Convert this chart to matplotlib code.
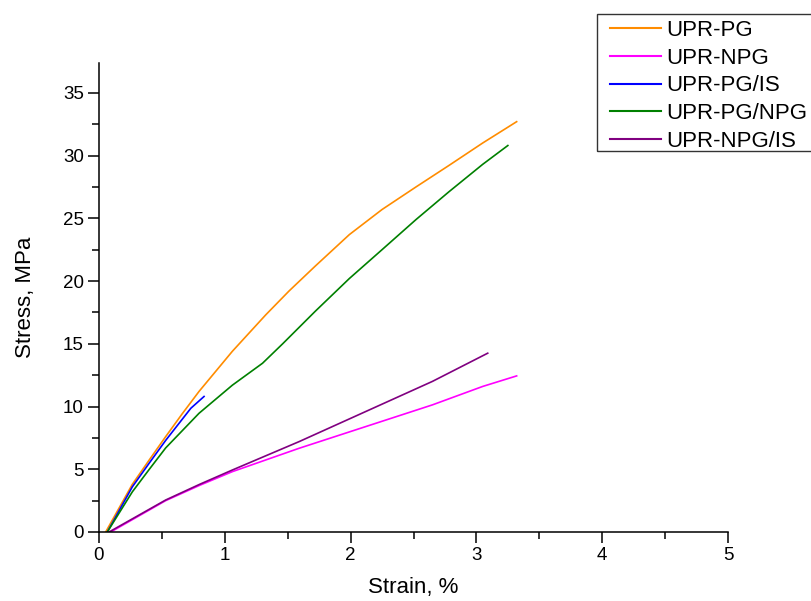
import matplotlib
matplotlib.use("Agg")
import matplotlib.pyplot as plt
from matplotlib.ticker import MultipleLocator
from matplotlib.patches import Rectangle

plt.rcParams['font.family'] = ['Liberation Sans', 'DejaVu Sans']

# Data
pg_x = [0.053, 0.265, 0.4, 0.53, 0.66, 0.795, 1.06, 1.325, 1.51, 1.72, 1.99, 2.25, 2.52, 2.78, 3.05, 3.32]
pg_y = [0.0, 3.8, 5.75, 7.6, 9.4, 11.2, 14.4, 17.3, 19.2, 21.2, 23.7, 25.7, 27.5, 29.2, 31.0, 32.7]

npg_x = [0.093, 0.53, 0.8, 1.06, 1.59, 2.12, 2.65, 3.05, 3.32]
npg_y = [0.0, 2.5, 3.72, 4.81, 6.67, 8.4, 10.13, 11.6, 12.44]

pgis_x = [0.066, 0.265, 0.4, 0.53, 0.73, 0.835]
pgis_y = [0.0, 3.6, 5.5, 7.3, 9.86, 10.8]

pgnpg_x = [0.066, 0.265, 0.4, 0.53, 0.795, 1.06, 1.30, 1.46, 1.72, 1.99, 2.25, 2.52, 2.78, 3.05, 3.25]
pgnpg_y = [0.0, 3.2, 5.0, 6.7, 9.46, 11.7, 13.45, 15.0, 17.6, 20.2, 22.5, 24.9, 27.1, 29.3, 30.8]

npgis_x = [0.08, 0.53, 0.8, 1.06, 1.59, 2.12, 2.65, 3.09]
npgis_y = [0.0, 2.55, 3.8, 4.94, 7.2, 9.6, 12.0, 14.25]

labels = ["UPR-PG", "UPR-NPG", "UPR-PG/IS", "UPR-PG/NPG", "UPR-NPG/IS"]
colors = ["#FF8C00", "#FF00FF", "#0000FF", "#008000", "#800080"]
series = [(pg_x, pg_y), (npg_x, npg_y), (pgis_x, pgis_y), (pgnpg_x, pgnpg_y), (npgis_x, npgis_y)]

W, H = 811, 601
fig = plt.figure(figsize=(W/100, H/100), dpi=100)
ax = fig.add_axes([99/W, 1-532/H, (728-99)/W, (532-62.7)/H])

for (x, y), lab, c in zip(series, labels, colors):
    ax.plot(x, y, color=c, lw=1.2, label=lab)

ax.set_xlim(0, 5)
ax.set_ylim(0, 37.4)
ax.xaxis.set_major_locator(MultipleLocator(1))
ax.xaxis.set_minor_locator(MultipleLocator(0.5))
ax.yaxis.set_major_locator(MultipleLocator(5))
ax.yaxis.set_minor_locator(MultipleLocator(2.5))
ax.tick_params(which='major', direction='out', length=8, width=1.1, labelsize=13.5, pad=3)
ax.tick_params(which='minor', direction='out', length=5, width=1.1)
for s in ['top', 'right']:
    ax.spines[s].set_visible(False)
for s in ['left', 'bottom']:
    ax.spines[s].set_linewidth(1.1)

ax.set_xlabel("Strain, %", fontsize=16, labelpad=9)
ax.set_ylabel("Stress, MPa", fontsize=16, labelpad=19)

# Legend frame drawn in figure pixels
fig.patches.append(Rectangle((597/W, 1-150.7/H), (820-597)/W, (150.7-14.3)/H,
                             transform=fig.transFigure, fill=False,
                             edgecolor='#333333', linewidth=1.0, zorder=1))
leg = fig.legend(loc='upper left', bbox_to_anchor=(610/W, 1-20/H),
                 fontsize=16, frameon=False, borderaxespad=0, borderpad=0,
                 handlelength=2.3, handletextpad=0.22, labelspacing=0.3)
for l in leg.get_lines():
    l.set_linewidth(1.5)

fig.savefig("out.png", dpi=100, facecolor='white')
